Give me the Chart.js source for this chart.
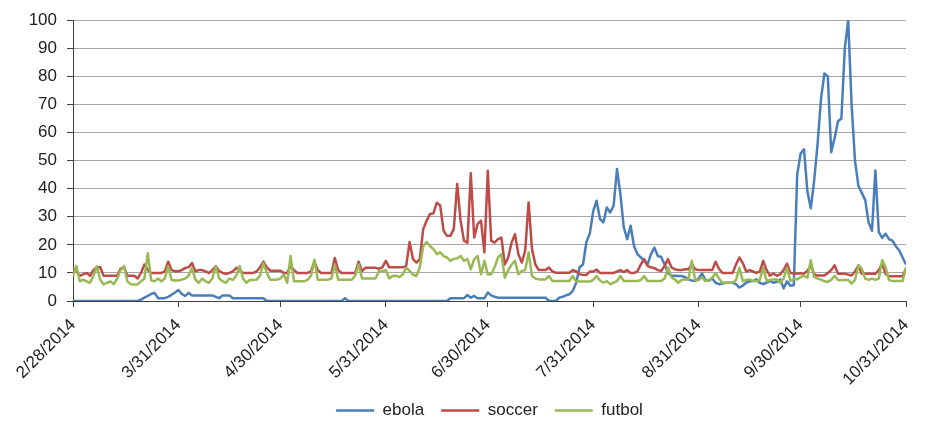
<!DOCTYPE html>
<html>
<head>
<meta charset="utf-8">
<title>ebola / soccer / futbol</title>
<script src="https://cdn.jsdelivr.net/npm/chart.js@4.4.1/dist/chart.umd.min.js"></script>
<style>
    html, body { margin: 0; padding: 0; background: #fff; }
    #wrap { width: 925px; height: 425px; }
</style>
</head>
<body>
<div id="wrap"><canvas id="trendChart" width="925" height="425"></canvas></div>
<script>
/***************************************
 * DATA (one value per day, 2/28 .. 10/31)
 ****************************************/
const ebola = [
    0,0,0,0,0,0,0,0,0,0,
    0,0,0,0,0,0,0,0,0,0,
    0.5,1.2,1.8,2.5,2.9,1,1,1,1.5,2.2,
    3,3.9,2.5,1.8,2.9,2,2,2,2,2,
    2,2,1.5,1,2,2,2,1,1,1,
    1,1,1,1,1,1,1,0,0,0,
    0,0,0,0,0,0,0,0,0,0,
    0,0,0,0,0,0,0,0,0,0,
    1,0,0,0,0,0,0,0,0,0,
    0,0,0,0,0,0,0,0,0,0,
    0,0,0,0,0,0,0,0,0,0,
    0,1,1,1,1,1,2.1,1.2,1.8,1,
    1,1,3,2,1.5,1.2,1.2,1.2,1.2,1.2,
    1.2,1.2,1.2,1.2,1.2,1.2,1.2,1.2,1.2,1.2,
    0,0,0,1.2,1.5,2,2.4,3.6,6.5,12,
    13,21,24,32,35.7,29.2,28,33.3,31.5,33.9,
    47,38,26.2,22,26.8,19.6,16.7,15.5,14.3,13.1,
    16.7,19,16,15.7,13,10,9,9,8.9,8.9,
    8.5,7.7,7.3,7.1,8,9.8,7.5,7.2,8,6.5,
    6,6.2,6.5,6.5,6.5,6,4.8,5.5,6.5,7,
    7.1,7.7,6.5,6,6.5,7.1,6.5,6.8,7.7,4.5,
    7,5.4,5.6,45,52.5,54,39,33,43,56,
    72,81,80,53,58,64,65,90,100,70,
    50,41,38.5,36,28,25,46.5,24.5,22.5,24,
    22,21.5,19.5,18,15.5,13
];

const soccer = [
    11.8,10.5,9,9.5,10,9,11,12,12,9,
    9,9,9,9,11.5,12,9,9,9,8,
    10,13,11,10,10,10,10,10.5,14,11,
    10.6,10.6,11,11.8,12,13.5,10.6,11,11,10.5,
    10,11,12.4,10.6,10,9.6,10,10.5,11.8,11,
    10,10,10,10,10.5,12,14,12,10.8,10.8,
    10.8,10.8,10,10,12.4,11,10,10,10,10,
    10.5,14,11,10,10,10,10,15.3,11,10,
    10,10,10,10,14,10.6,11.8,11.8,11.8,11.8,
    11.5,12,14.3,12,12,12,12,12,12.5,21,
    14.9,13.7,14.9,25.6,28.6,31,31.2,35,34,25,
    23.2,23.2,25.6,41.7,28.6,21.4,20.8,45.5,22.6,27.4,
    28.6,17.3,46.4,21.4,20.8,22,22.6,13,15.5,20.8,
    23.8,16.7,13.7,17.9,35.1,18.5,13,11,11,11,
    11.9,10.5,10.1,10.1,10.1,10.1,10.1,11,10.5,9.5,
    9.3,9.3,10.5,10.5,11.2,10,10,10,10,10,
    10.5,11,10.3,11,10,10,10.5,13,14.9,12.5,
    12,11.7,11,10.7,12.5,14.9,12,11.3,11,11,
    11.3,11.3,13.1,11.3,11,11,11,11,11,14,
    11.5,10,10,10,10,13,15.5,13.5,10.5,11,
    10.5,10,10.5,14.3,11,9,9.8,9,9.5,11,
    13.3,10,9.8,9.8,9.8,9.8,10.7,12.7,9.5,9.1,
    9.1,9.1,10,11,12.7,9.7,9.7,9.7,9.4,9.1,
    10.5,12.7,9.7,9.7,9.7,9.7,9.7,11,13.3,9.7,
    8.8,8.8,8.8,8.8,8.8,11.5
];

const futbol = [
    9,12.4,7,7.6,7,6.5,9,12.4,7.6,5.9,
    6.5,7,6,8,11,12.4,7,6,5.9,5.9,
    7,8,17,7.4,7,8,7,8,12.4,7.5,
    7.3,7.3,7.6,8,9,11.8,7.6,6.5,8,7,
    6.5,8,12.4,8,7,6.5,8,7.5,9,12.4,
    8,6.5,7.5,7.5,7.6,9,13.5,10,7.6,7.6,
    7.6,8,9.4,6.5,16,7,7,7,7,7.5,
    9,14.7,7.6,7.6,7.6,7.6,8,13,7.6,7.6,
    7.6,7.6,7.6,9,13,8,8,8,8,8,
    10.6,10.7,11,8,8.9,9,8.5,9.5,11.9,10.7,
    9.4,8.9,12,19.5,21,19.6,18.5,16.7,17.3,16,
    15.5,14.3,15,15.2,16,14.3,14.9,11.3,14.9,16,
    9.5,14.3,9.5,9.5,12,15.5,16.7,8.3,11,13,
    14.3,9.5,10.7,11,17.3,8.9,8,7.7,7.7,7.7,
    8.9,7.1,7.1,7.1,7.1,7.1,7.1,8.9,6.9,6.9,
    6.9,6.9,6.9,7.5,8.9,7.3,6.5,7.1,6,6.5,
    7.1,8.9,7.1,7.1,7.1,7.1,7.1,7.5,8.9,7.1,
    7.1,7.1,7.1,7.1,8,11.9,8.5,7.7,6.5,7.5,
    7.7,7.7,14.3,7.4,7.5,8.5,7.1,7.5,8.3,10,
    8,6.5,6.5,6.5,6.5,7.5,11.9,7.1,7.5,7.7,
    7.1,7.1,7.5,11.9,7.1,7.5,7.7,7.7,6.5,8,
    11.9,7.1,7.9,7.7,8.5,9,8.3,14.5,8.5,8,
    7.6,7,6.8,7.5,9,7.5,7.5,7.5,7.5,6.2,
    7.5,12.7,11.5,8,7.5,8,7.5,8,14.5,12,
    7.5,7.1,7.1,7.1,7.1,12
];

// month-end ticks: day offset from 2/28/2014 and their labels
const tickDays = [0, 31, 61, 92, 122, 153, 184, 214, 245];
const tickLabels = ["2/28/2014", "3/31/2014", "4/30/2014", "5/31/2014", "6/30/2014",
                    "7/31/2014", "8/31/2014", "9/30/2014", "10/31/2014"];

const yTicks = { min: 0, max: 100, step: 10 };

/***************************************
 * CHART
 ****************************************/
const AXIS_DARK = "#404040";
const labelFont = { family: '"Liberation Sans", Arial, sans-serif', size: 17 };

// keep the legend centred over the plot area, not over the whole canvas
const legendOverPlot = {
    id: "legendOverPlot",
    afterLayout(chart) {
        chart.legend.left = chart.chartArea.left;
        chart.legend.right = chart.chartArea.right;
    }
};

function lineSet(label, data, color, order) {
    return {
        label: label,
        data: data,
        borderColor: color,
        backgroundColor: color,
        borderWidth: 2.5,
        pointRadius: 0,
        tension: 0,
        borderJoinStyle: "round",
        order: order
    };
}

const ctx = document.getElementById("trendChart").getContext("2d");
new Chart(ctx, {
    type: "line",
    data: {
        labels: ebola.map((v, i) => i),
        datasets: [
            lineSet("ebola", ebola, "#4a7ebb", 2),
            lineSet("soccer", soccer, "#be4b48", 1),
            lineSet("futbol", futbol, "#98b954", 0)
        ]
    },
    options: {
        responsive: false,
        animation: false,
        devicePixelRatio: 1,
        layout: { padding: { top: 20, right: 19, bottom: -4, left: 0 } },
        plugins: {
            tooltip: { enabled: false },
            legend: {
                position: "bottom",
                labels: {
                    usePointStyle: true,
                    pointStyle: "line",
                    pointStyleWidth: 38,
                    padding: 17,
                    color: "#222",
                    font: labelFont,
                    sort: (a, b) => a.datasetIndex - b.datasetIndex
                }
            }
        },
        scales: {
            x: {
                type: "linear",
                min: tickDays[0],
                max: tickDays[tickDays.length - 1],
                afterBuildTicks: axis => { axis.ticks = tickDays.map(v => ({ value: v })); },
                afterFit: axis => { axis.height = 84; axis.paddingLeft = 0; axis.paddingRight = 0; },
                ticks: {
                    autoSkip: false,
                    minRotation: 45,
                    maxRotation: 45,
                    padding: 8,
                    color: "#222",
                    font: labelFont,
                    callback: v => tickLabels[tickDays.indexOf(v)] ?? ""
                },
                grid: { drawOnChartArea: false, tickLength: 6, tickColor: AXIS_DARK },
                border: { color: AXIS_DARK, width: 1 }
            },
            y: {
                min: yTicks.min,
                max: yTicks.max,
                afterFit: axis => { axis.width = 73; },
                ticks: { stepSize: yTicks.step, padding: 10, color: "#222", font: labelFont },
                grid: { color: "#a6a6a6", tickLength: 6, tickColor: AXIS_DARK },
                border: { color: AXIS_DARK, width: 1 }
            }
        }
    },
    plugins: [legendOverPlot]
});
</script>
</body>
</html>
